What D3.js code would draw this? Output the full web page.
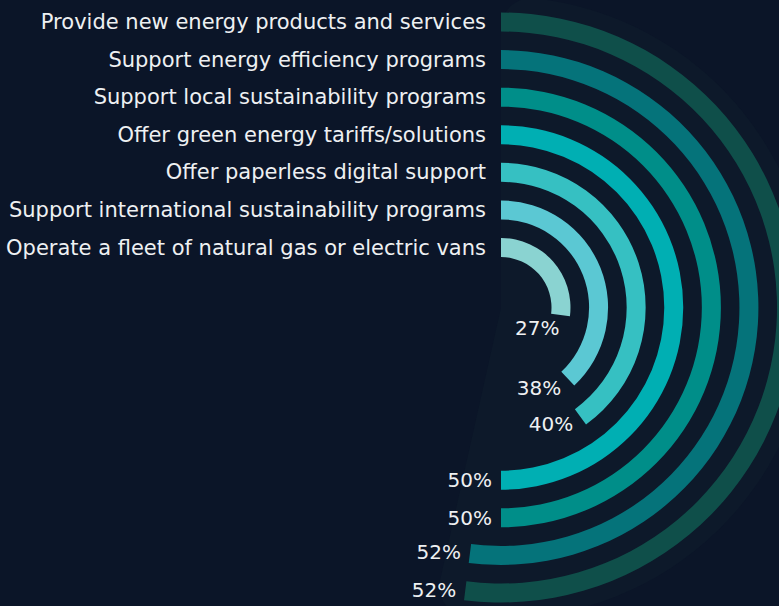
<!DOCTYPE html>
<html>
<head>
<meta charset="utf-8">
<script src="https://cdn.jsdelivr.net/npm/d3@7"></script>
<style>
  html, body { margin: 0; padding: 0; background: #0b1528; }
  svg { display: block; }
  text { font-family: "DejaVu Sans", sans-serif; fill: #eef0f2; }
</style>
</head>
<body>
<script>
// data, outermost ring first
var categories = [
  "Provide new energy products and services",
  "Support energy efficiency programs",
  "Support local sustainability programs",
  "Offer green energy tariffs/solutions",
  "Offer paperless digital support",
  "Support international sustainability programs",
  "Operate a fleet of natural gas or electric vans"
];
var values = [52, 52, 50, 50, 40, 38, 27];
var colors = ["#0f4f4a", "#05737a", "#008e89", "#00afb3", "#36c0c2", "#5bc8d3", "#8ad3d1"];

var width = 779, height = 606;
var cx = 501, cy = 307.5;

var svg = d3.select("body")
  .append("svg")
    .attr("width", width)
    .attr("height", height);

svg.append("rect")
    .attr("width", width)
    .attr("height", height)
    .attr("fill", "#0b1528");

var g = svg.append("g")
    .attr("transform", "translate(" + cx + "," + cy + ")");

// value -> angle
var angle = d3.scaleLinear().domain([0, 100]).range([0, 2 * Math.PI]);

// category -> radius band
var radius = d3.scaleBand()
    .domain(categories)
    .range([295, 50.5])
    .paddingInner(0.495)
    .paddingOuter(0);

// faint backdrop behind the rings
g.append("path")
    .attr("d", d3.arc()
      .innerRadius(0)
      .outerRadius(311)
      .cornerRadius(30)
      .startAngle(0)
      .endAngle(angle(53.5))())
    .attr("fill", "#0d192a");

var arc = d3.arc()
    .innerRadius(function(d) { return radius(d.cat); })
    .outerRadius(function(d) { return radius(d.cat) + radius.bandwidth(); })
    .startAngle(0)
    .endAngle(function(d) { return angle(d.value); });

var rows = categories.map(function(c, i) {
  return {cat: c, value: values[i], color: colors[i]};
});

g.selectAll(".ring")
    .data(rows)
  .enter().append("path")
    .attr("class", "ring")
    .attr("d", arc)
    .attr("fill", function(d) { return d.color; });

// category labels, left of the ring starts
g.selectAll(".cat")
    .data(rows)
  .enter().append("text")
    .attr("class", "cat")
    .attr("x", -15)
    .attr("y", function(d) { return -(radius(d.cat) + radius.bandwidth() / 2); })
    .attr("dominant-baseline", "central")
    .attr("text-anchor", "end")
    .style("font-size", "21px")
    .text(function(d) { return d.cat; });

// value labels just past the end of each ring
g.selectAll(".val")
    .data(rows)
  .enter().append("text")
    .attr("class", "val")
    .attr("transform", function(d) {
      var a = angle(d.value);
      var r = radius(d.cat) + radius.bandwidth() / 2;
      var px = r * Math.sin(a), py = -r * Math.cos(a);
      var x = px + 9 * Math.cos(a);
      var y = py + 9 * Math.sin(a) + 4 * Math.max(0, Math.sin(a));
      return "translate(" + x + "," + y + ")";
    })
    .attr("dominant-baseline", "central")
    .attr("text-anchor", "end")
    .style("font-size", "20px")
    .text(function(d) { return d.value + "%"; });
</script>
</body>
</html>
